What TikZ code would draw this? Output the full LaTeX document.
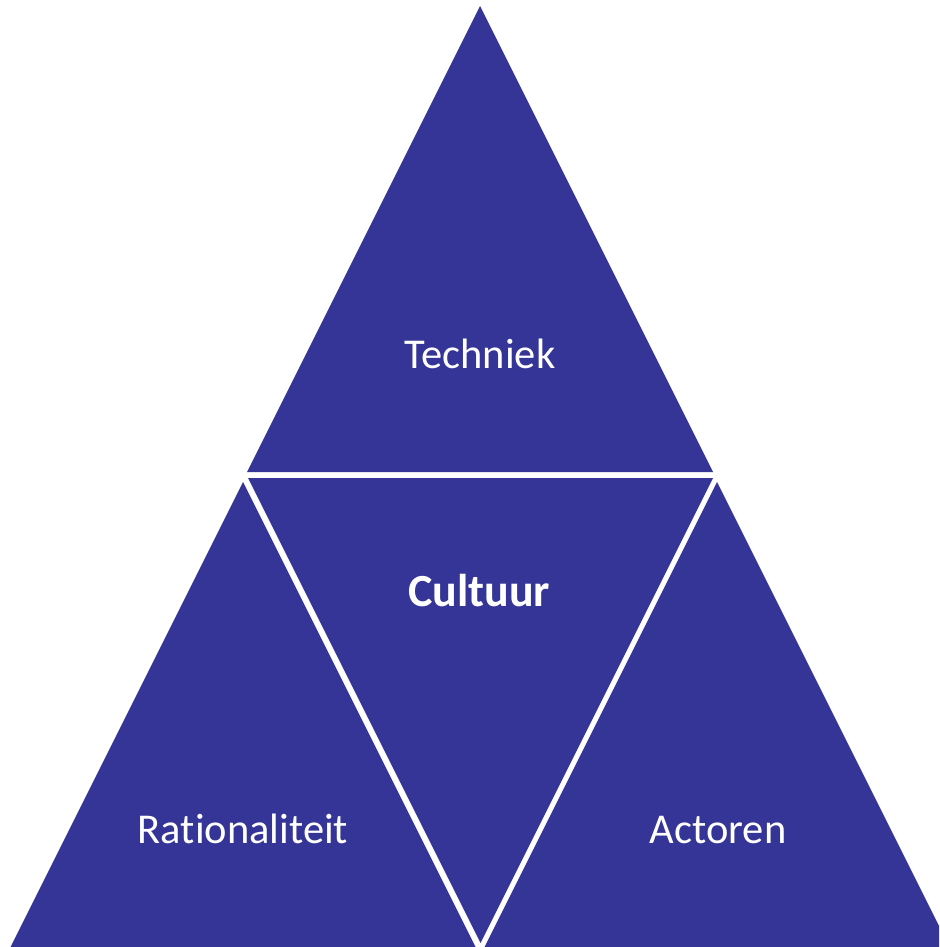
\documentclass[tikz,border=0pt]{standalone}
\usepackage{fontspec}
\setmainfont[Ligatures=NoCommon]{Carlito}
\definecolor{tri}{RGB}{53,53,152}
\begin{document}
\begin{tikzpicture}[x=1pt,y=-1pt,
  piece/.style={fill=tri,draw=none},
  lbl/.style={text=white,anchor=base,inner sep=0pt,font=\fontsize{42.5}{50}\selectfont}]
\useasboundingbox (0,0) rectangle (939,947);
\clip (0,0) rectangle (939,947);
\fill[white] (0,0) rectangle (939,947);
% top triangle
\fill[piece] (480,6) -- (247,472) -- (713,472) -- cycle;
% middle inverted triangle
\fill[piece] (248,478) -- (713,478) -- (480.5,943) -- cycle;
% left triangle
\fill[piece] (243,482) -- (10.5,947) -- (475.5,947) -- cycle;
% right triangle
\fill[piece] (717,482) -- (484.5,947) -- (949.5,947) -- cycle;
\node[lbl] (techniek) at (480,368.5) {Techniek};
\node[lbl,font=\fontsize{46}{54}\selectfont\bfseries] (cultuur) at (479,606.5) {Cultuur};
\node[lbl] (rationaliteit) at (243,843.5) {Rationaliteit};
\node[lbl] (actoren) at (718,843.5) {Actoren};
\end{tikzpicture}
\end{document}
